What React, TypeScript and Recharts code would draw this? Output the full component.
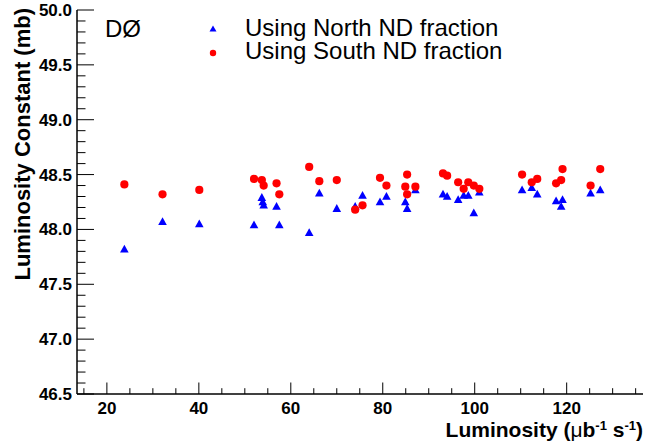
import React from 'react';
import { ScatterChart, Scatter, XAxis, YAxis, Legend, Label } from 'recharts';

// luminosity (x) and luminosity constant (y)
const lumNorth = [23.8, 32.1, 40.1, 52.0, 53.7, 53.9, 54.1, 56.9, 57.5, 64.0, 66.2, 70.0, 74.0, 75.6, 79.4, 80.8, 84.9, 85.3, 87.1, 93.1, 94.0, 96.4, 97.6, 98.6, 99.8, 101.0, 110.3, 112.4, 113.6, 117.7, 118.8, 119.1, 125.2, 127.3];
const constNorth = [47.82, 48.07, 48.05, 48.04, 48.29, 48.25, 48.22, 48.21, 48.04, 47.97, 48.33, 48.19, 48.21, 48.31, 48.25, 48.30, 48.25, 48.19, 48.36, 48.32, 48.30, 48.27, 48.31, 48.31, 48.15, 48.34, 48.36, 48.38, 48.32, 48.26, 48.21, 48.27, 48.33, 48.36];

const lumSouth = [23.8, 32.1, 40.1, 52.0, 53.7, 54.1, 56.9, 57.5, 64.0, 66.2, 70.0, 74.0, 75.6, 79.4, 80.8, 84.9, 85.3, 85.3, 87.1, 93.1, 94.0, 96.4, 97.6, 98.6, 99.8, 101.0, 110.3, 112.4, 113.6, 117.7, 118.8, 119.1, 125.2, 127.3];
const constSouth = [48.41, 48.32, 48.36, 48.46, 48.45, 48.40, 48.42, 48.32, 48.57, 48.44, 48.45, 48.18, 48.22, 48.47, 48.40, 48.39, 48.50, 48.32, 48.39, 48.51, 48.49, 48.43, 48.37, 48.43, 48.40, 48.37, 48.50, 48.43, 48.46, 48.42, 48.45, 48.55, 48.40, 48.55];

const xTicks = [15, 20, 25, 30, 35, 40, 45, 50, 55, 60, 65, 70, 75, 80, 85, 90, 95, 100, 105, 110, 115, 120, 125, 130, 135];
const xLabels = [20, 40, 60, 80, 100, 120];
const yTicks = [46.5, 46.6, 46.7, 46.8, 46.9, 47.0, 47.1, 47.2, 47.3, 47.4, 47.5, 47.6, 47.7, 47.8, 47.9, 48.0, 48.1, 48.2, 48.3, 48.4, 48.5, 48.6, 48.7, 48.8, 48.9, 49.0, 49.1, 49.2, 49.3, 49.4, 49.5, 49.6, 49.7, 49.8, 49.9, 50.0];
const yLabels = [46.5, 47.0, 47.5, 48.0, 48.5, 49.0, 49.5, 50.0];

const north = lumNorth.map((l, i) => ({ lum: l, c: constNorth[i] }));
const south = lumSouth.map((l, i) => ({ lum: l, c: constSouth[i] }));

const FONT = '"Liberation Sans", Arial, Helvetica, sans-serif';
const BLUE = '#0000ff';
const RED = '#ff0000';

const XTick = (props: any) => {
  const { x, y, payload } = props;
  const v = payload.value;
  const major = xLabels.some((m) => Math.abs(m - v) < 1e-6);
  return (
    <g>
      <line x1={x} x2={x} y1={y} y2={y - (major ? 11.5 : 5.8)} stroke="#000" strokeWidth={1} />
      {major && (
        <text x={x} y={y + 20} textAnchor="middle" fontFamily={FONT} fontWeight="bold" fontSize={17} fill="#000">
          {v}
        </text>
      )}
    </g>
  );
};

const YTick = (props: any) => {
  const { x, y, payload } = props;
  const v = payload.value;
  const major = yLabels.some((m) => Math.abs(m - v) < 1e-6);
  return (
    <g>
      <line x1={x} x2={x + (major ? 17 : 8.5)} y1={y} y2={y} stroke="#000" strokeWidth={1} />
      {major && (
        <text x={x - 5} y={y + 6} textAnchor="end" fontFamily={FONT} fontWeight="bold" fontSize={17} fill="#000">
          {v.toFixed(1)}
        </text>
      )}
    </g>
  );
};

const Tri = (p: any) => {
  const { cx, cy } = p;
  return <path d={`M${cx},${cy - 4.5} L${cx + 4.3},${cy + 3.3} L${cx - 4.3},${cy + 3.3} Z`} fill={BLUE} />;
};

const Dot = (p: any) => <circle cx={p.cx} cy={p.cy} r={4.1} fill={RED} />;

const LegendBox = () => (
  <svg width={645} height={70} style={{ display: 'block' }}>
    <text x={105} y={37} fontFamily={FONT} fontSize={24} fill="#000">DØ</text>
    <path d="M213,25.5 L216.5,31.5 L209.5,31.5 Z" fill={BLUE} />
    <text x={245} y={36} fontFamily={FONT} fontSize={24} fill="#000">Using North ND fraction</text>
    <circle cx={213} cy={53} r={3.2} fill={RED} />
    <text x={245} y={59} fontFamily={FONT} fontSize={24} fill="#000">Using South ND fraction</text>
  </svg>
);

export default function App() {
  return (
    <div style={{ width: 645, height: 442, background: '#fff' }}>
      <style>{'body{margin:0}'}</style>
      <ScatterChart width={645} height={442} margin={{ top: 10, right: 2, bottom: 0, left: 0 }}>
        <XAxis
          dataKey="lum"
          type="number"
          domain={[13.5, 136.6]}
          ticks={xTicks}
          interval={0}
          allowDataOverflow
          height={48}
          tickLine={false}
          tickSize={0}
          tickMargin={0}
          tick={<XTick />}
          axisLine={{ stroke: '#000', strokeWidth: 1.5 }}
        >
          <Label
            content={() => (
              <text x={643} y={437} textAnchor="end" fontFamily={FONT} fontWeight="bold" fontSize={21} fill="#000">
                Luminosity (<tspan fontWeight="normal">μ</tspan>b<tspan dy={-7} fontSize={13}>-1</tspan>
                <tspan dy={7}> s</tspan><tspan dy={-7} fontSize={13}>-1</tspan><tspan dy={7}>)</tspan>
              </text>
            )}
          />
        </XAxis>
        <XAxis xAxisId="top" orientation="top" type="number" domain={[13.5, 136.6]} height={0} tick={false} tickLine={false} axisLine={{ stroke: '#000', strokeWidth: 2 }} />
        <YAxis
          dataKey="c"
          type="number"
          domain={[46.5, 50]}
          ticks={yTicks}
          interval={0}
          allowDataOverflow
          width={77}
          tickLine={false}
          tickSize={0}
          tickMargin={0}
          tick={<YTick />}
          axisLine={{ stroke: '#000', strokeWidth: 1.5 }}
        >
          <Label
            content={() => (
              <text transform="rotate(-90)" x={-8} y={30} textAnchor="end" fontFamily={FONT} fontWeight="bold" fontSize={22} fill="#000">
                Luminosity Constant (mb)
              </text>
            )}
          />
        </YAxis>
        <YAxis yAxisId="right" orientation="right" type="number" domain={[46.5, 50]} width={0} tick={false} tickLine={false} axisLine={{ stroke: '#c8c8c8', strokeWidth: 1.5 }} />
        <Legend
          layout="horizontal"
          verticalAlign="middle"
          align="center"
          wrapperStyle={{ top: 0, left: 0, width: 645, height: 70, pointerEvents: 'none' }}
          content={() => <LegendBox />}
        />
        <Scatter name="Using North ND fraction" data={north} shape={<Tri />} isAnimationActive={false} />
        <Scatter name="Using South ND fraction" data={south} shape={<Dot />} isAnimationActive={false} />
      </ScatterChart>
    </div>
  );
}
